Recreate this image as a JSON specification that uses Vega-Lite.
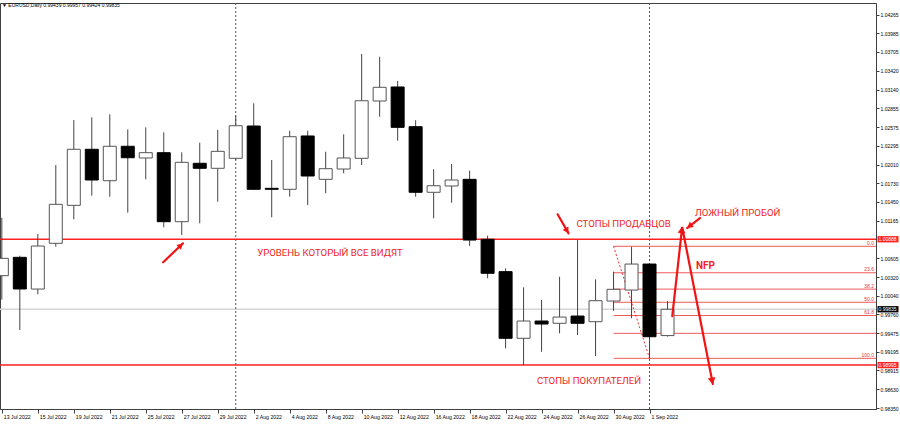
{
  "$schema": "https://vega.github.io/schema/vega-lite/v6.json",
  "width": 876,
  "height": 406,
  "autosize": {"type": "none"},
  "padding": {"left": 0, "top": 3, "right": 24, "bottom": 16},
  "background": "white",
  "config": {
    "view": {"stroke": "#404040", "strokeWidth": 1},
    "font": "Liberation Sans",
    "axis": {"grid": false, "labelFontSize": 5, "labelFont": "Liberation Sans", "labelColor": "#000000", "tickColor": "#404040", "domainColor": "#404040", "labelOverlap": false, "labelFlush": false}
  },
  "title": {"text": "▼ EURUSD,Daily  0.99439 0.99957 0.99424 0.99835", "anchor": "start", "frame": "group", "fontSize": 5, "fontWeight": "normal", "font": "Liberation Sans", "color": "#000000", "offset": -5.5, "dx": 2},
  "datasets": {
    "candles": [
      {"d": "13 Jul 2022", "i": 0, "o": 1.00340, "h": 1.01210, "l": 0.99980, "c": 1.00601},
      {"d": "14 Jul 2022", "i": 1, "o": 1.00616, "h": 1.00640, "l": 0.99523, "c": 1.00140},
      {"d": "15 Jul 2022", "i": 2, "o": 1.00139, "h": 1.00967, "l": 1.00060, "c": 1.00786},
      {"d": "18 Jul 2022", "i": 3, "o": 1.00827, "h": 1.02004, "l": 1.00776, "c": 1.01413},
      {"d": "19 Jul 2022", "i": 4, "o": 1.01398, "h": 1.02681, "l": 1.01188, "c": 1.02241},
      {"d": "20 Jul 2022", "i": 5, "o": 1.02241, "h": 1.02722, "l": 1.01543, "c": 1.01779},
      {"d": "21 Jul 2022", "i": 6, "o": 1.01768, "h": 1.02767, "l": 1.01528, "c": 1.02286},
      {"d": "22 Jul 2022", "i": 7, "o": 1.02286, "h": 1.02541, "l": 1.01287, "c": 1.02114},
      {"d": "25 Jul 2022", "i": 8, "o": 1.02110, "h": 1.02571, "l": 1.01789, "c": 1.02190},
      {"d": "26 Jul 2022", "i": 9, "o": 1.02190, "h": 1.02496, "l": 1.01067, "c": 1.01152},
      {"d": "27 Jul 2022", "i": 10, "o": 1.01152, "h": 1.02195, "l": 1.00952, "c": 1.02045},
      {"d": "28 Jul 2022", "i": 11, "o": 1.02030, "h": 1.02340, "l": 1.01127, "c": 1.01955},
      {"d": "29 Jul 2022", "i": 12, "o": 1.01955, "h": 1.02531, "l": 1.01452, "c": 1.02210},
      {"d": "1 Aug 2022", "i": 13, "o": 1.02105, "h": 1.02746, "l": 1.02080, "c": 1.02595},
      {"d": "2 Aug 2022", "i": 14, "o": 1.02591, "h": 1.02932, "l": 1.01628, "c": 1.01639},
      {"d": "3 Aug 2022", "i": 15, "o": 1.01654, "h": 1.02080, "l": 1.01218, "c": 1.01639},
      {"d": "4 Aug 2022", "i": 16, "o": 1.01639, "h": 1.02520, "l": 1.01528, "c": 1.02430},
      {"d": "5 Aug 2022", "i": 17, "o": 1.02441, "h": 1.02520, "l": 1.01403, "c": 1.01839},
      {"d": "8 Aug 2022", "i": 18, "o": 1.01789, "h": 1.02204, "l": 1.01579, "c": 1.01949},
      {"d": "9 Aug 2022", "i": 19, "o": 1.01944, "h": 1.02466, "l": 1.01880, "c": 1.02110},
      {"d": "10 Aug 2022", "i": 20, "o": 1.02105, "h": 1.03674, "l": 1.02004, "c": 1.02971},
      {"d": "11 Aug 2022", "i": 21, "o": 1.02967, "h": 1.03633, "l": 1.02731, "c": 1.03173},
      {"d": "12 Aug 2022", "i": 22, "o": 1.03178, "h": 1.03268, "l": 1.02370, "c": 1.02571},
      {"d": "15 Aug 2022", "i": 23, "o": 1.02581, "h": 1.02677, "l": 1.01528, "c": 1.01594},
      {"d": "16 Aug 2022", "i": 24, "o": 1.01594, "h": 1.01940, "l": 1.01203, "c": 1.01693},
      {"d": "17 Aug 2022", "i": 25, "o": 1.01689, "h": 1.02020, "l": 1.01437, "c": 1.01779},
      {"d": "18 Aug 2022", "i": 26, "o": 1.01789, "h": 1.01919, "l": 1.00786, "c": 1.00876},
      {"d": "19 Aug 2022", "i": 27, "o": 1.00887, "h": 1.00941, "l": 1.00301, "c": 1.00376},
      {"d": "22 Aug 2022", "i": 28, "o": 1.00401, "h": 1.00451, "l": 0.99247, "c": 0.99398},
      {"d": "23 Aug 2022", "i": 29, "o": 0.99398, "h": 1.00165, "l": 0.98996, "c": 0.99658},
      {"d": "24 Aug 2022", "i": 30, "o": 0.99658, "h": 0.99974, "l": 0.99196, "c": 0.99613},
      {"d": "25 Aug 2022", "i": 31, "o": 0.99624, "h": 1.00324, "l": 0.99473, "c": 0.99718},
      {"d": "26 Aug 2022", "i": 32, "o": 0.99733, "h": 1.00876, "l": 0.99448, "c": 0.99624},
      {"d": "29 Aug 2022", "i": 33, "o": 0.99648, "h": 1.00285, "l": 0.99132, "c": 0.99964},
      {"d": "30 Aug 2022", "i": 34, "o": 0.99959, "h": 1.00401, "l": 0.99813, "c": 1.00135},
      {"d": "31 Aug 2022", "i": 35, "o": 1.00124, "h": 1.00776, "l": 0.99699, "c": 1.00515},
      {"d": "1 Sep 2022", "i": 36, "o": 1.00515, "h": 1.00530, "l": 0.99097, "c": 0.99422},
      {"d": "2 Sep 2022", "i": 37, "o": 0.99439, "h": 0.99957, "l": 0.99424, "c": 0.99835}
    ],
    "fib": [
      {"lvl": "0.0", "p": 1.00782},
      {"lvl": "23.6", "p": 1.00384},
      {"lvl": "38.2", "p": 1.00138},
      {"lvl": "50.0", "p": 0.99940},
      {"lvl": "61.8", "p": 0.99741},
      {"lvl": "", "p": 0.99473},
      {"lvl": "100.0", "p": 0.99097}
    ],
    "arrows": [
      {"id": "a1", "k": 0, "i": 8.968, "p": 1.00541},
      {"id": "a1", "k": 1, "i": 10.066, "p": 1.00827},
      {"id": "a2", "k": 0, "i": 30.89, "p": 1.01263},
      {"id": "a2", "k": 1, "i": 31.50, "p": 1.00977},
      {"id": "a3", "k": 0, "i": 37.265, "p": 0.99733},
      {"id": "a3", "k": 1, "i": 37.815, "p": 1.01072},
      {"id": "a3", "k": 2, "i": 39.518, "p": 0.98711},
      {"id": "a4", "k": 0, "i": 38.804, "p": 1.01207},
      {"id": "a4", "k": 1, "i": 38.09, "p": 1.01057}
    ],
    "notes": [
      {"label": "УРОВЕНЬ КОТОРЫЙ ВСЕ ВИДЯТ", "i": 14.19, "p": 1.00681},
      {"label": "СТОПЫ ПРОДАВЦОВ", "i": 31.94, "p": 1.01117},
      {"label": "ЛОЖНЫЙ ПРОБОЙ", "i": 38.53, "p": 1.01282},
      {"label": "СТОПЫ ПОКУПАТЕЛЕЙ", "i": 29.74, "p": 0.98756}
    ]
  },
  "layer": [
    {
      "data": {"name": "candles"},
      "mark": {"type": "rule", "color": "#444444", "strokeWidth": 1, "opacity": 0},
      "encoding": {
        "x": {"field": "i", "type": "quantitative", "title": null, "scale": {"domain": [0.176, 48.31], "nice": false, "zero": false},
          "axis": {"orient": "bottom", "title": null, "values": [0, 2, 4, 6, 8, 10, 12, 14, 16, 18, 20, 22, 24, 26, 28, 30, 32, 34, 36], "tickCount": 60,
            "labelExpr": "['13 Jul 2022','15 Jul 2022','19 Jul 2022','21 Jul 2022','25 Jul 2022','27 Jul 2022','29 Jul 2022','2 Aug 2022','4 Aug 2022','8 Aug 2022','10 Aug 2022','12 Aug 2022','16 Aug 2022','18 Aug 2022','22 Aug 2022','24 Aug 2022','26 Aug 2022','30 Aug 2022','1 Sep 2022'][round(datum.value/2)]",
            "labelAlign": "left", "labelBaseline": "top", "labelOffset": 1.5, "labelPadding": 1, "tickSize": 4, "labelOverlap": false, "labelFlush": false, "labelBound": false, "labelFontSize": 5.2}},
        "y": {"field": "l", "type": "quantitative", "title": null, "scale": {"domain": [0.98335, 1.04441], "nice": false, "zero": false},
          "axis": {"orient": "right", "title": null, "values": [1.04265, 1.03985, 1.03705, 1.0342, 1.0314, 1.02855, 1.02575, 1.02295, 1.0201, 1.0173, 1.0145, 1.01165, 1.00605, 1.0032, 1.0004, 0.9976, 0.99475, 0.99195, 0.98915, 0.9863, 0.9835], "tickCount": 60,
            "format": ".5f", "tickSize": 3, "labelPadding": 1, "labelBaseline": "middle", "labelOverlap": false, "labelFlush": false, "labelBound": false, "labelFontSize": 5}}
      }
    },
    {
      "data": {"values": [{"p": 0.99835}]},
      "mark": {"type": "rule", "color": "#d6d6d6", "strokeWidth": 1.5},
      "encoding": {"y": {"field": "p", "type": "quantitative", "title": null}}
    },
    {
      "data": {"values": [{"i": 13}, {"i": 36}]},
      "mark": {"type": "rule", "color": "#555555", "strokeWidth": 1, "strokeDash": [2, 2]},
      "encoding": {"x": {"field": "i", "type": "quantitative", "title": null}}
    },
    {
      "data": {"name": "fib"},
      "mark": {"type": "rule", "color": "#f05a5a", "strokeWidth": 1},
      "encoding": {
        "x": {"datum": 34, "type": "quantitative", "title": null},
        "x2": {"value": "width"},
        "y": {"field": "p", "type": "quantitative", "title": null}
      }
    },
    {
      "data": {"name": "fib"},
      "mark": {"type": "text", "align": "right", "baseline": "bottom", "dx": -2, "dy": -0.5, "fontSize": 5, "color": "#e03a3a", "font": "Liberation Sans"},
      "encoding": {
        "x": {"value": "width"},
        "y": {"field": "p", "type": "quantitative", "title": null},
        "text": {"field": "lvl"}
      }
    },
    {
      "data": {"values": [{"p": 1.00888}, {"p": 0.98995}]},
      "mark": {"type": "rule", "color": "#ff2020", "strokeWidth": 1.5},
      "encoding": {"y": {"field": "p", "type": "quantitative", "title": null}}
    },
    {
      "data": {"values": [{"i": 34, "p": 1.00782}, {"i": 36, "p": 0.99097}]},
      "mark": {"type": "line", "color": "#f03030", "strokeWidth": 1, "strokeDash": [2, 2]},
      "encoding": {
        "x": {"field": "i", "type": "quantitative", "title": null},
        "y": {"field": "p", "type": "quantitative", "title": null}
      }
    },
    {
      "data": {"name": "candles"},
      "mark": {"type": "rule", "color": "#444444", "strokeWidth": 1, "clip": true},
      "encoding": {
        "x": {"field": "i", "type": "quantitative", "title": null},
        "y": {"field": "l", "type": "quantitative", "title": null},
        "y2": {"field": "h"}
      }
    },
    {
      "data": {"name": "candles"},
      "mark": {"type": "bar", "size": 13, "strokeWidth": 1, "clip": true},
      "encoding": {
        "x": {"field": "i", "type": "quantitative", "title": null},
        "y": {"field": "o", "type": "quantitative", "title": null},
        "y2": {"field": "c"},
        "fill": {"condition": {"test": "datum.c < datum.o", "value": "#000000"}, "value": "#ffffff"},
        "stroke": {"condition": {"test": "datum.c < datum.o", "value": "#000000"}, "value": "#555555"}
      }
    },
    {
      "data": {"name": "arrows"},
      "mark": {"type": "line", "color": "#f01414", "strokeWidth": 2.2, "strokeCap": "round"},
      "encoding": {
        "x": {"field": "i", "type": "quantitative", "title": null},
        "y": {"field": "p", "type": "quantitative", "title": null},
        "detail": {"field": "id"},
        "order": {"field": "k", "type": "quantitative"}
      }
    },
    {
      "data": {"values": [{"i": 9.946, "p": 1.00795}]},
      "mark": {"type": "point", "shape": "triangle-up", "filled": true, "opacity": 1, "color": "#f01414", "size": 45, "angle": 46.5},
      "encoding": {"x": {"field": "i", "type": "quantitative", "title": null}, "y": {"field": "p", "type": "quantitative", "title": null}}
    },
    {
      "data": {"values": [{"i": 31.413, "p": 1.01016}]},
      "mark": {"type": "point", "shape": "triangle-up", "filled": true, "opacity": 1, "color": "#f01414", "size": 45, "angle": 149.9},
      "encoding": {"x": {"field": "i", "type": "quantitative", "title": null}, "y": {"field": "p", "type": "quantitative", "title": null}}
    },
    {
      "data": {"values": [{"i": 37.798, "p": 1.01031}]},
      "mark": {"type": "point", "shape": "triangle-up", "filled": true, "opacity": 1, "color": "#f01414", "size": 60, "angle": 6.4},
      "encoding": {"x": {"field": "i", "type": "quantitative", "title": null}, "y": {"field": "p", "type": "quantitative", "title": null}}
    },
    {
      "data": {"values": [{"i": 39.485, "p": 0.98754}]},
      "mark": {"type": "point", "shape": "triangle-up", "filled": true, "opacity": 1, "color": "#f01414", "size": 60, "angle": 168.9},
      "encoding": {"x": {"field": "i", "type": "quantitative", "title": null}, "y": {"field": "p", "type": "quantitative", "title": null}}
    },
    {
      "data": {"values": [{"i": 38.222, "p": 1.01084}]},
      "mark": {"type": "point", "shape": "triangle-up", "filled": true, "opacity": 1, "color": "#f01414", "size": 45, "angle": 232.4},
      "encoding": {"x": {"field": "i", "type": "quantitative", "title": null}, "y": {"field": "p", "type": "quantitative", "title": null}}
    },
    {
      "data": {"name": "notes"},
      "mark": {"type": "text", "align": "left", "baseline": "middle", "font": "Roboto", "fontSize": 9.6, "color": "#f01e1e"},
      "encoding": {
        "x": {"field": "i", "type": "quantitative", "title": null},
        "y": {"field": "p", "type": "quantitative", "title": null},
        "text": {"field": "label"}
      }
    },
    {
      "data": {"values": [{"label": "NFP", "i": 38.58, "p": 1.0049}]},
      "mark": {"type": "text", "align": "left", "baseline": "middle", "font": "Roboto", "fontSize": 10, "fontWeight": "bold", "color": "#f01e1e"},
      "encoding": {
        "x": {"field": "i", "type": "quantitative", "title": null},
        "y": {"field": "p", "type": "quantitative", "title": null},
        "text": {"field": "label"}
      }
    },
    {
      "data": {"values": [{"p": 1.00888}, {"p": 0.98995}]},
      "mark": {"type": "point", "shape": "M-1,-0.3H1V0.3H-1Z", "filled": true, "opacity": 1, "color": "#ff2020", "size": 441, "xOffset": 12},
      "encoding": {"x": {"value": "width"}, "y": {"field": "p", "type": "quantitative", "title": null}}
    },
    {
      "data": {"values": [{"p": 0.99835}]},
      "mark": {"type": "point", "shape": "M-1,-0.3H1V0.3H-1Z", "filled": true, "opacity": 1, "color": "#000000", "size": 441, "xOffset": 12},
      "encoding": {"x": {"value": "width"}, "y": {"field": "p", "type": "quantitative", "title": null}}
    },
    {
      "data": {"values": [{"p": 1.00888}, {"p": 0.98995}, {"p": 0.99835}]},
      "mark": {"type": "text", "align": "left", "baseline": "middle", "dx": 2.5, "fontSize": 5, "font": "Liberation Sans", "color": "#ffffff"},
      "encoding": {
        "x": {"value": "width"},
        "y": {"field": "p", "type": "quantitative", "title": null},
        "text": {"field": "p", "type": "quantitative", "format": ".5f"}
      }
    }
  ]
}
